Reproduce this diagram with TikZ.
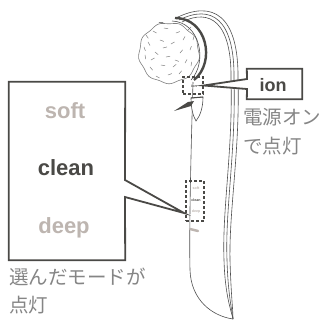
\documentclass[tikz,border=0pt]{standalone}
\usepackage{fontspec}
\setmainfont{Liberation Sans}
\newfontfamily\jpfont{Noto Sans CJK JP}
\definecolor{ink}{HTML}{4A4946}
\definecolor{dim}{HTML}{BDB5B0}
\definecolor{note}{HTML}{858585}
\definecolor{lineart}{HTML}{505050}
\definecolor{fur}{HTML}{808080}
\begin{document}
\begin{tikzpicture}[x=1pt,y=-1pt,
  frame/.style={draw=ink, line width=1.8pt, line join=miter},
  modelabel/.style={font=\bfseries\fontsize{22}{22}\selectfont, anchor=base, inner sep=0},
  ionlabel/.style={font=\bfseries\fontsize{18}{18}\selectfont, anchor=base, inner sep=0, text=ink},
  jptext/.style={font=\jpfont\fontsize{19.5}{28}\selectfont, text=note, anchor=base west, inner sep=0},
  ledbox/.style={draw=ink, line width=1.4pt, dash pattern=on 3pt off 2pt, inner sep=0},
  tinylabel/.style={font=\bfseries\fontsize{3.6}{4}\selectfont, inner sep=0},
  outline/.style={draw=lineart, line width=0.6pt},
  bristle/.style={draw=fur, line width=0.5pt, line cap=round}]
\useasboundingbox (0,0) rectangle (323,322);

% --- handle: three seam lines along the back ---
\draw[outline] (176,18) .. controls (212,0) and (239,14) .. (238,80)
  .. controls (240,150) and (229,210) .. (230,260)
  .. controls (231,295) and (233,310) .. (233,319);
\draw[outline] (179,20) .. controls (211,4) and (235,18) .. (234,80)
  .. controls (236,150) and (225,210) .. (227,260)
  .. controls (228,295) and (232,310) .. (233,319);
\draw[outline] (182,22) .. controls (210,8) and (232,22) .. (231,80)
  .. controls (233,150) and (222,210) .. (224,260)
  .. controls (225,295) and (231,310) .. (233,319);
% front contour of the handle
\draw[outline] (193,82) .. controls (191,150) and (189,230) .. (190,270)
  .. controls (191,300) and (212,316) .. (233,319);

% --- brush head ---
\draw[outline, draw=fur, fill=white] plot[smooth cycle, samples=72, domain=0:355]
  ({169+(30+0.8*sin(9*\x))*cos(\x)}, {53+(30+0.8*sin(9*\x))*sin(\x)});
\foreach \px/\py/\a in {153/31/30, 164/28/10, 176/33/-20, 148/42/60, 160/40/20,
  171/44/-30, 183/40/-60, 145/55/80, 155/52/40, 166/57/-10, 180/53/-50,
  190/50/-70, 150/67/50, 161/65/10, 173/67/-40, 185/63/-60, 156/76/30,
  168/75/-20, 179/74/-50, 144/47/70, 188/30/-45, 159/22/0, 191/66/-80,
  163/48/-15, 151/60/-30, 175/60/20, 193/40/-75, 146/35/55}
  \draw[bristle] (\px,\py) -- ++(\a:4);
% brush rim
\draw[outline] (172,21) .. controls (200,22) and (208,62) .. (191,80);
\draw[draw=ink, line width=2.4pt] (175,18) .. controls (207,18) and (216,62) .. (194,80);

% --- power button with pointer ---
\draw[outline, fill=white] (191,98) -- (203,97) .. controls (203,108) and (200,116) .. (196,121)
  .. controls (193,116) and (191,108) .. (191,98) -- cycle;
\draw[ink, line width=1pt] (191,98) -- (203,97);
\fill[ink] (174,111) -- (188,102) -- (194,101) -- (191,106) -- cycle;

% --- indicator lamps on the handle ---
\node[ledbox, minimum width=20pt, minimum height=17pt] (ionled) at (193,85.5) {};
\node[tinylabel, text=ink] (ionlamp) at (194,86) {ion};
\node[ledbox, minimum width=18pt, minimum height=40pt] (modeled) at (195,201) {};
\node[tinylabel, text=dim] (softlamp) at (196,188) {soft};
\node[tinylabel, text=ink] (cleanlamp) at (196,200) {clean};
\node[tinylabel, text=dim] (deeplamp) at (196,212) {deep};
\draw[dim, line width=2.5pt, line cap=round] (190,229) -- (198,231);

% --- mode callout ---
\node[minimum width=116pt, minimum height=178pt, inner sep=0] (modebox) at (67,171) {};
\coordinate (modegapA) at (125,180);
\coordinate (modegapB) at (125,197);
\coordinate (modetip) at (184,213);
\draw[frame, fill=white] (modebox.north west) -- (modebox.north east) -- (modegapA)
  -- (modetip) -- (modegapB) -- (modebox.south east) -- (modebox.south west) -- cycle;
\node[modelabel, text=dim] (soft) at (65,118) {soft};
\node[modelabel, text=ink] (clean) at (66,175) {clean};
\node[modelabel, text=dim] (deep) at (64,233) {deep};
\node[jptext] (modenote1) at (9,284.5) {選んだモードが};
\node[jptext] (modenote2) at (9,312.5) {点灯};

% --- ion callout ---
\node[minimum width=55pt, minimum height=30pt, inner sep=0] (ionbox) at (274.5,84) {};
\coordinate (iongapA) at (247,79);
\coordinate (iongapB) at (247,89);
\draw[frame, fill=white] (ionbox.north west) -- (ionbox.north east) -- (ionbox.south east)
  -- (ionbox.south west) -- (iongapB) -- (ionled.east) -- (iongapA) -- cycle;
\node[ionlabel] (ion) at (273,91) {ion};
\node[jptext] (ionnote1) at (243,124.5) {電源オン};
\node[jptext] (ionnote2) at (243,153.5) {で点灯};
\end{tikzpicture}
\end{document}
